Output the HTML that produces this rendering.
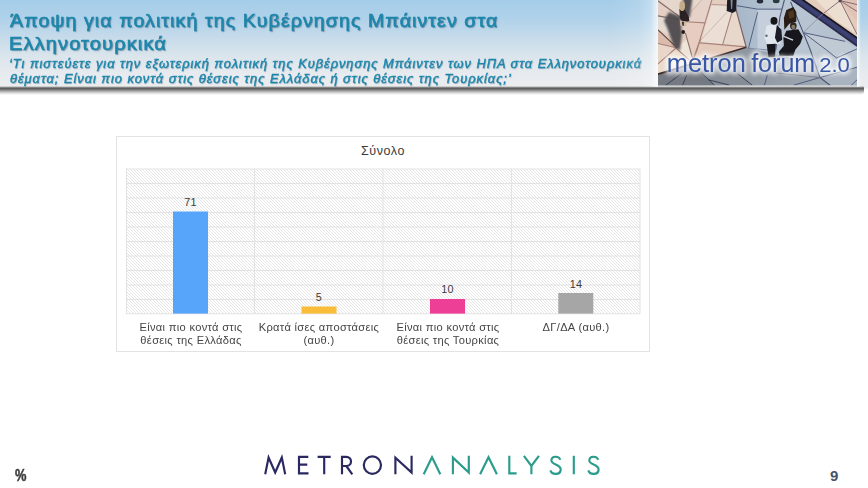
<!DOCTYPE html>
<html lang="el">
<head>
<meta charset="utf-8">
<title>Metron Analysis</title>
<style>
html,body{margin:0;padding:0;background:#fff;}
body{width:868px;height:488px;position:relative;overflow:hidden;font-family:"Liberation Sans",sans-serif;}
.abs{position:absolute;}
#hdr{left:0;top:0;width:868px;height:87px;background:linear-gradient(180deg,#a5cde9 0%,#b0d2ea 22%,#c8dcea 45%,#dbe5ec 65%,#e7ebef 85%,#ecedef 100%);}
#hdrshadow{left:0;top:86.4px;width:864px;height:8.5px;border-radius:0 0 4px 0;background:linear-gradient(180deg,#e6e7e9 0%,#bdbdbd 9%,#6a6a6a 20%,#5e5e5e 30%,#7e7e7e 42%,#ababab 58%,#d6d6d6 76%,#f4f4f4 92%,#ffffff 100%);}
.tl{left:10px;font-weight:normal;-webkit-text-stroke:0.62px #1c86ab;font-size:18.5px;line-height:22px;color:#1c86ab;white-space:nowrap;text-shadow:1px 1px 1.2px rgba(40,70,95,.55);letter-spacing:1px;transform-origin:0 0;}
.sl{left:10px;font-weight:normal;-webkit-text-stroke:0.4px #1c86ab;font-style:italic;font-size:12px;line-height:14px;color:#1c86ab;white-space:nowrap;letter-spacing:0.9px;transform-origin:0 0;text-shadow:0.7px 0.7px 1px rgba(40,70,95,.4);}
#chart{left:116px;top:136px;width:532px;height:214px;border:1px solid #e3e3e3;background:#fff;box-sizing:content-box;}
#ctitle{left:116px;top:143.5px;width:534px;text-align:center;font-size:12.5px;color:#3a3a3a;letter-spacing:.55px;}
.val{font-size:10.8px;color:#3a3a3a;text-align:center;width:60px;letter-spacing:.3px;}
.cat{font-size:10.7px;line-height:12.8px;color:#444;text-align:center;width:128px;letter-spacing:.3px;transform:scaleX(1.04);white-space:nowrap;}
.foot{font-weight:bold;color:#404040;white-space:nowrap;transform-origin:0 0;}
</style>
</head>
<body>
<div id="hdr" class="abs"></div>
<div id="hdrshadow" class="abs"></div>
<div id="t1" class="abs tl" style="top:9.8px;left:9.6px;transform:scaleX(1.06)">Άποψη για πολιτική της Κυβέρνησης Μπάιντεν στα</div>
<div id="t2" class="abs tl" style="top:33.4px;left:9px;transform:scaleX(1.086)">Ελληνοτουρκικά</div>
<div id="s1" class="abs sl" style="top:57px;left:8.5px;transform:scaleX(1.071)">‘Τι πιστεύετε για την εξωτερική πολιτική της Κυβέρνησης Μπάιντεν των ΗΠΑ στα Ελληνοτουρκικά</div>
<div id="s2" class="abs sl" style="top:71.6px;left:9.5px;transform:scaleX(1.073)">θέματα; Είναι πιο κοντά στις θέσεις της Ελλάδας ή στις θέσεις της Τουρκίας;’</div>

<div class="abs" style="left:610px;top:0;width:48px;height:87px;background:linear-gradient(90deg,rgba(255,255,255,0),rgba(255,255,255,.12) 60%,rgba(255,255,255,.3) 85%,rgba(255,255,255,.8) 100%);"></div>
<div class="abs" style="left:857px;top:0;width:4px;height:87px;background:linear-gradient(90deg,rgba(255,255,255,.85),rgba(255,255,255,0));"></div><div class="abs" style="left:864px;top:86.5px;width:4px;height:3px;background:linear-gradient(180deg,#e9ebee,#fff);"></div>
<svg id="logo" class="abs" style="left:658.2px;top:0" width="199" height="85.5" viewBox="658 0 200 86" preserveAspectRatio="none">
  <defs>
    <filter id="b0" x="-10%" y="-10%" width="120%" height="120%"><feGaussianBlur stdDeviation="0.55"/></filter>
    <filter id="b1" x="-10%" y="-10%" width="120%" height="120%"><feGaussianBlur stdDeviation="0.68"/></filter>
    <filter id="b2" x="-30%" y="-30%" width="160%" height="160%"><feGaussianBlur stdDeviation="1.1"/></filter>
    <filter id="b3" x="-30%" y="-30%" width="160%" height="160%"><feGaussianBlur stdDeviation="3"/></filter>
    <filter id="glow" x="-10%" y="-60%" width="120%" height="220%"><feGaussianBlur stdDeviation="2"/></filter>
    <linearGradient id="gbg" x1="0" y1="0" x2="1" y2="0">
      <stop offset="0" stop-color="#a5b6c8"/><stop offset="0.35" stop-color="#b9c6d3"/><stop offset="1" stop-color="#b1bdca"/>
    </linearGradient>
    <linearGradient id="ggrey" x1="0" y1="0" x2="1" y2="0">
      <stop offset="0" stop-color="#7d838b"/><stop offset="0.45" stop-color="#8f97a1"/><stop offset="1" stop-color="#a7b2be"/>
    </linearGradient>
    <clipPath id="lc"><rect x="658" y="0" width="200" height="86"/></clipPath>
  </defs>
  <g clip-path="url(#lc)">
  <g filter="url(#b1)">
    <!-- beige base -->
    <rect x="650" y="-5" width="215" height="96" fill="#e3cec2"/>
    <!-- tile tints -->
    <polygon points="658,30 677.6,48.4 658,64" fill="#dbbbac"/>
    <polygon points="658,16 677.6,19.6 672,36 658,30" fill="#e6dbd3"/>
    <polygon points="658,0 680,17 658,16" fill="#e4cfc4"/>
    <polygon points="660,0 702,0 691,12 680,17" fill="#e6d7cd"/>
    <polygon points="702,0 712,0 705.2,23 686.8,22" fill="#e6d2c8"/>
    <polygon points="686.8,22 705.2,23 697.2,50 690.3,50 685.6,33" fill="#e7cdc1"/>
    <polygon points="712,4.6 727,5.2 732.3,12.7 723.1,44.4 701,43" fill="#eaded5"/>
    <polygon points="712,0 734,0 736.3,9.2 732.3,12.7 727,5.2 712,4.6" fill="#e3cdc0"/>
    <polygon points="732.3,12.7 736.3,9.2 746.7,47.2 723.1,44.4" fill="#e8d7cb"/>
    <polygon points="700.6,43.2 746.7,47.2 693.7,63 697.2,50" fill="#e5cbbc"/>
    <polygon points="658,44 676.4,48 658,64.2" fill="#e8d6c8"/>
    <polygon points="676.4,48.6 691.4,62 658,74.6 658,64.2" fill="#ebdccd"/>
    <polygon points="676.4,48 686.8,40 692.6,58.4 691.4,62" fill="#efe4d8"/>
    <!-- blue-grey right region -->
    <polygon points="734,-2 736.3,9.2 746.7,47.5 740,50 760,92 870,92 870,-2" fill="url(#gbg)"/>
    <polygon points="758,9 782,9.2 776.4,50 758,50" fill="#c4cfdb"/>
    <polygon points="786,0 792,2 804,33 811,50 778,50 781,17" fill="#b9c5d2"/>
    <polygon points="804,33 845.5,41.5 858,48 858,60 837.5,58.4 820,64" fill="#c0cad5"/>
    <!-- grey bottom band -->
    <polygon points="650,77 746.7,47.5 790,58 870,56 870,92 650,92" fill="url(#ggrey)"/>
    <polygon points="650,77 702,61.5 714,86 650,92" fill="#747a82"/>
    <polygon points="701.8,73.4 714.5,86 752,86 738.6,74.6 725,66" fill="#858c95"/>
    <polygon points="806.4,40 820.8,78 858,67.6 858,49 837.5,58.4 814.5,40" fill="#bcc6d1"/>
    <polygon points="820.8,78 858,67.6 858,86 830.6,86" fill="#aab4c0"/>
    <!-- top-right beige triangle with navy band -->
    <polygon points="788.5,-2 870,-2 870,55.5" fill="#2a2a48"/>
    <polygon points="791.5,-2 870,-2 870,53.5" fill="#3c3f72"/>
    <polygon points="799.3,-2 870,-2 870,47.5" fill="#17151c"/>
    <polygon points="802.5,-2 870,-2 870,45.5" fill="#e3ccbc"/>
    <polygon points="815,-2 841,0.6 858,34.5 836,20" fill="#ecdfd2"/>
    <polygon points="841,0.6 870,-2 870,36" fill="#dfc2b4"/>
    <!-- seams: beige area -->
    <g stroke="#a98379" stroke-width="1.1" fill="none" stroke-linecap="round">
      <path d="M712.1,0 L705.2,23 L697.2,50 L693.7,60"/>
      <path d="M686.8,21.9 L705.2,23"/>
      <path d="M732.3,12.7 L723.1,44.4"/>
      <path d="M700.6,43.2 L746.7,47.2" stroke-width="1.3"/>
      <path d="M712,4.6 L727,5.2 L732.3,12.7" stroke-width="0.8"/>
      <path d="M727,12.7 L701,40.3" stroke-width="0.7" stroke="#c4a79d"/>
      <path d="M701.8,0 L691.4,11.5" stroke-width="0.7" stroke="#c4a79d"/>
      <path d="M658,16 L677.6,19.6" stroke="#7d6a66"/>
      <path d="M658,1 L680,17" stroke="#7d6a66"/>
      <path d="M658,43.8 L676.4,48"/>
      <path d="M676.4,48 L658,64.2"/>
      <path d="M676.4,48.6 L691.4,62"/>
      <path d="M685.6,33.4 L690.3,50 L692.6,58.4" stroke="#8a7068"/>
      <path d="M700.6,40 L693.7,58.4" stroke-width="1.3"/>
    </g>
    <path d="M658,30 L677.6,48.4" stroke="#5e4740" stroke-width="1.2"/>
    <path d="M746.7,47.5 L658,74.6" stroke="#3d2c28" stroke-width="1.7"/>
    <path d="M734,0 L736.3,9.2 L746.7,47.5" stroke="#7d6363" stroke-width="1.2" fill="none"/>
    <!-- seams: blue area -->
    <g stroke="#4a5578" stroke-width="0.9" fill="none" stroke-linecap="round">
      <path d="M737.5,5.8 L758,9.2 L782,9.2"/>
      <path d="M758,12.7 L749,48.4"/>
      <path d="M785,0 L780.5,17.3 L776.4,50" stroke-width="1.1"/>
      <path d="M791.4,2.3 L804,32.8 L811,50 L820.8,78 L830.6,85.5" stroke-width="1.1"/>
      <path d="M804,32.8 L845.5,41.5"/>
      <path d="M804,32.8 L827,50 L837.5,58.4"/>
      <path d="M858,49.2 L837.5,58.4"/>
      <path d="M820.8,78 L858,67.6"/>
      <path d="M820.8,78 L794.9,85.5"/>
      <path d="M820.8,78 L799.5,75.7 L776.4,73.4" stroke="#6a6a7a"/>
      <path d="M767.8,75.7 L765,85.5"/>
      <path d="M858,80.3 L852.5,85.5"/>
      <path d="M822.5,15 L804,32.8" stroke="#8a8aa0" stroke-width="0.7"/>
      <path d="M749,48.4 L776,51" stroke="#7a86a0"/>
    </g>
    <g stroke="#3a4058" stroke-width="1" fill="none" stroke-linecap="round">
      <path d="M701.8,73.4 L714.5,85.5"/>
      <path d="M681,74.6 L666,85.5"/>
      <path d="M686.8,75.7 L682.8,85.5"/>
      <path d="M708.7,80.3 L729.4,85.5"/>
      <path d="M738.6,74.6 L752.5,85.5"/>
    </g>
    <g stroke="#7c6270" stroke-width="0.9" fill="none">
      <path d="M841,0.6 L822.5,15"/>
      <path d="M841,0.6 L858,34.5"/>
      <path d="M841,0.6 L858,11.5"/>
      <path d="M841,0.6 L858,4.6"/>
    </g>
    <circle cx="841" cy="0.8" r="1.6" fill="#5a4450"/>
  </g>
  <!-- shadows -->
  <g filter="url(#b2)">
    <path d="M664,20.7 L669,12 L680.5,16.5 L682,34.6 L680,51 L673.5,46 L667.6,29 Z" fill="#4e4a4e" opacity="0.95"/>
    <path d="M683.5,-2 L692.6,-2 L690,17 L680.5,19 Z" fill="#4a464c" opacity="0.95"/>
  </g>
  <g filter="url(#b1)">
    <!-- person 1 (top-left) -->
    <path d="M679.5,9 L684,8 L689,17 L689.5,21 L686,22 L682,21.5 L680,18 Z" fill="#2a2024"/>
    <ellipse cx="682.3" cy="6" rx="2.9" ry="5" fill="#c4ad86"/>
    <path d="M680,20.5 L686.5,21.5 L686.5,26.5 L680.5,26 Z" fill="#cdbba6"/>
    <path d="M682,22 L684,22 L684,26 L682.6,26 Z" fill="#3a2a2a"/>
    <ellipse cx="683.3" cy="32.2" rx="1.9" ry="1.9" fill="#241c1e"/>
    <!-- person 2 (top middle) -->
    <path d="M727.5,0 L737,0 L736.5,11 L733,13 L727,11 Z" fill="#1f1f27"/>
    <path d="M731,0 L733,0 L732.5,9 L731.5,9 Z" fill="#8d8a90"/>
    <!-- partial people top of blue area -->
    <ellipse cx="760.5" cy="1.2" rx="3.2" ry="2.2" fill="#252b38"/>
    <ellipse cx="776.8" cy="1" rx="3.4" ry="2.2" fill="#283a40"/>
    <!-- white-shirt person -->
    <path d="M767,26 L776,24 L781,27 L781,44 L768,45 L765,38 Z" fill="#e1e6ed"/>
    <ellipse cx="774.6" cy="21" rx="3.5" ry="3.8" fill="#121218"/>
    <path d="M777.5,25 L782,30 L782.8,40 L778,43 L775.5,38 Z" fill="#1b1d27"/>
    <circle cx="767" cy="36" r="1.2" fill="#5a6470"/>
    <path d="M767.2,44.6 L776.4,44 L775.5,57.3 L769,57.3 Z" fill="#15151b"/>
    <!-- woman dark hair -->
    <path d="M787,10 L794,7 L797,12 L797,22 L790,24 L785,30 L784.5,18 Z" fill="#2a1f14"/>
    <path d="M789,12 L794,10 L795,17 L790,19 Z" fill="#4e381f"/>
    <!-- man in black -->
    <ellipse cx="794" cy="26.2" rx="3.3" ry="3.7" fill="#2b2624"/>
    <ellipse cx="794" cy="27.2" rx="2" ry="2.2" fill="#8b7466"/>
    <path d="M787,31 L799,29.5 L803.5,37 L801,44 L796,50 L794,56 L780,56 L779.5,52 L784.5,46 L784,38 Z" fill="#16171e"/>
    <path d="M784.5,36.5 L793.7,40.3" stroke="#d5d9df" stroke-width="1.4"/>
  </g>
  <!-- brand text -->
  <g font-family="'Liberation Sans',sans-serif" font-size="25.6">
    <g fill="#ffffff" stroke="#ffffff" stroke-width="4.6" opacity="0.8" filter="url(#glow)">
      <text x="666.8" y="72.7" textLength="79.4" lengthAdjust="spacingAndGlyphs">metron</text>
      <text x="751.6" y="72.7" textLength="64.4" lengthAdjust="spacingAndGlyphs">forum</text>
      <text x="820" y="72.7" font-size="20.6" textLength="30.8" lengthAdjust="spacingAndGlyphs">2.0</text>
    </g>
    <g fill="#3757a5" filter="url(#b0)">
      <text x="666.8" y="72.7" textLength="79.4" lengthAdjust="spacingAndGlyphs">metron</text>
      <text x="751.6" y="72.7" textLength="64.4" lengthAdjust="spacingAndGlyphs">forum</text>
      <text x="820" y="72.7" font-size="20.6" textLength="30.8" lengthAdjust="spacingAndGlyphs">2.0</text>
    </g>
  </g>
  </g>
</svg>

<div id="chart" class="abs"></div>
<svg class="abs" style="left:0;top:0" width="868" height="488" viewBox="0 0 868 488">
  <defs>
    <pattern id="hatch" width="3" height="3" patternUnits="userSpaceOnUse">
      <rect width="3" height="3" fill="#fff"/>
      <path d="M-1,-1 L4,4 M-1,2 L1,4 M2,-1 L4,1" stroke="#e7e7e7" stroke-width="1"/>
    </pattern>
  </defs>
  <rect x="126" y="169" width="514" height="145" fill="url(#hatch)"/>
  <g stroke="#e3e3e3" stroke-width="1">
    <line x1="126" x2="640" y1="169" y2="169"/>
    <line x1="126" x2="640" y1="183.5" y2="183.5"/>
    <line x1="126" x2="640" y1="198" y2="198"/>
    <line x1="126" x2="640" y1="212.5" y2="212.5"/>
    <line x1="126" x2="640" y1="227" y2="227"/>
    <line x1="126" x2="640" y1="241.5" y2="241.5"/>
    <line x1="126" x2="640" y1="256" y2="256"/>
    <line x1="126" x2="640" y1="270.5" y2="270.5"/>
    <line x1="126" x2="640" y1="285" y2="285"/>
    <line x1="126" x2="640" y1="299.5" y2="299.5"/>
    <line x1="126" x2="640" y1="313.8" y2="313.8"/>
    <line x1="126.5" x2="126.5" y1="168.6" y2="313.6"/>
    <line x1="254.5" x2="254.5" y1="168.6" y2="313.6"/>
    <line x1="383" x2="383" y1="168.6" y2="313.6"/>
    <line x1="511.5" x2="511.5" y1="168.6" y2="313.6"/>
    <line x1="640" x2="640" y1="168.6" y2="313.6"/>
  </g>
  <rect x="173" y="211.5" width="35" height="102.1" fill="#56a5fa"/>
  <rect x="301.5" y="306.5" width="35" height="7.1" fill="#f9bd3a"/>
  <rect x="430" y="299" width="35" height="14.6" fill="#ee3f97"/>
  <rect x="558.3" y="293" width="35" height="20.6" fill="#a6a6a6"/>
</svg>
<div id="ctitle" class="abs">Σύνολο</div>
<div class="abs val" style="left:160.5px;top:196px">71</div>
<div class="abs val" style="left:289px;top:291px">5</div>
<div class="abs val" style="left:417.5px;top:283px">10</div>
<div class="abs val" style="left:546px;top:278px">14</div>

<div class="abs cat" style="left:127.2px;top:320.9px">Είναι πιο κοντά στις<br>θέσεις της Ελλάδας</div>
<div class="abs cat" style="left:255.3px;top:320.9px">Κρατά ίσες αποστάσεις<br>(αυθ.)</div>
<div class="abs cat" style="left:384.2px;top:320.9px">Είναι πιο κοντά στις<br>θέσεις της Τουρκίας</div>
<div class="abs cat" style="left:511.5px;top:320.9px">ΔΓ/ΔΑ (αυθ.)</div>

<div class="abs foot" style="left:15.3px;top:465.2px;font-size:16.5px;line-height:20px;transform:scaleX(.78);-webkit-text-stroke:0.55px #404040">%</div>
<div class="abs foot" style="left:829.9px;top:466.5px;font-size:15px;line-height:18px;color:#44546a">9</div>

<svg id="brand" class="abs" style="left:255px;top:445px" width="360" height="40" viewBox="255 445 360 40">
  <g fill="none" stroke="#2a2860" stroke-width="2.15" stroke-linejoin="miter" stroke-miterlimit="6">
    <path d="M265.2,474.2 L268.6,457.5 L275.2,472.5 L281.8,457.5 L285.2,474.2"/>
    <path d="M308.3,456.8 L299,456.8 L299,473.4 L308.5,473.4 M299,464.6 L307.3,464.6"/>
    <path d="M317.6,456.8 L330.7,456.8 M324.2,456.8 L324.2,474.3"/>
    <path d="M342,474.3 L342,456.8 L346.2,456.8 C352.6,456.8 352.6,466 346.2,466 L342,466 M346.3,466 L352.3,474.3"/>
    <ellipse cx="372.4" cy="465.1" rx="8.6" ry="8.7"/>
    <path d="M395.4,474.3 L395.4,457.6 L411.6,472.6 L411.6,455.8"/>
  </g>
  <g fill="none" stroke="#2b9c8b" stroke-width="2.15" stroke-linejoin="miter" stroke-miterlimit="6">
    <path d="M423.7,474.3 L432,457.2 L440.3,474.3"/>
    <path d="M452.9,474.3 L452.9,457.6 L468.8,472.6 L468.8,455.8"/>
    <path d="M480.1,474.3 L488.5,457.2 L496.9,474.3"/>
    <path d="M509.3,455.8 L509.3,473.4 L516.6,473.4"/>
    <path d="M523.9,455.8 L531.4,466 L538.9,455.8 M531.4,465.5 L531.4,474.3"/>
    <path d="M560.3,459.8 C559,455.6 551.6,455.6 551.4,460.4 C551.2,465.2 560.9,463.8 560.7,469.6 C560.5,475.2 551.8,475.2 550.4,470.4"/>
    <path d="M573.8,455.8 L573.8,474.3"/>
    <path d="M598.2,459.8 C596.9,455.6 589.5,455.6 589.3,460.4 C589.1,465.2 598.8,463.8 598.6,469.6 C598.4,475.2 589.7,475.2 588.3,470.4"/>
  </g>
</svg>
</body>
</html>
